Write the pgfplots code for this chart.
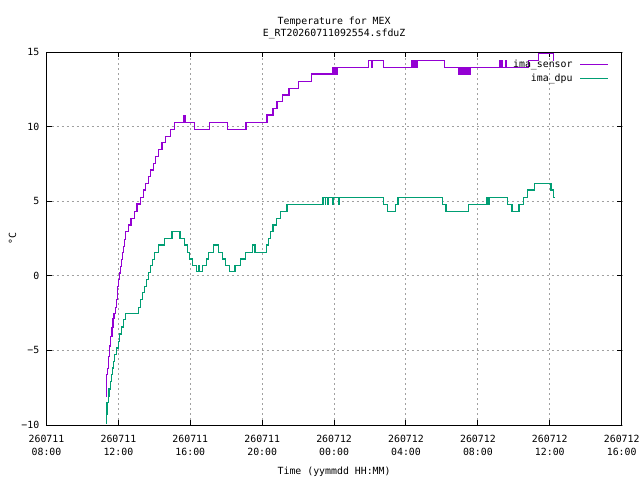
\documentclass[border=0pt]{standalone}
\usepackage{pgfplots}
\pgfplotsset{compat=1.18}
\usepackage{fontspec}
\setmainfont{DejaVu Sans Mono}
\definecolor{csensor}{HTML}{9400D3}
\definecolor{cdpu}{HTML}{009E73}
\definecolor{cgrid}{HTML}{A0A0A0}
\newcommand{\gfont}{\fontsize{7.4pt}{9.2pt}\selectfont}
\begin{document}
\begin{tikzpicture}
\path[use as bounding box] (0,0) rectangle (480pt,360pt);
\begin{axis}[
  at={(34.875pt,41.25pt)}, anchor=south west,
  width=431.4pt, height=279.5pt, scale only axis,
  xmin=8, xmax=40, ymin=-10, ymax=15,
  xtick={8,12,16,20,24,28,32,36,40},
  xticklabels={{260711\\08:00},{260711\\12:00},{260711\\16:00},{260711\\20:00},{260712\\00:00},{260712\\04:00},{260712\\08:00},{260712\\12:00},{260712\\16:00}},
  ytick={-10,-5,0,5,10,15},
  yticklabels={−10,−5,0,5,10,15},
  xticklabel style={font=\gfont, align=center, anchor=center, yshift=-15.4pt},
  yticklabel style={font=\gfont, anchor=east, inner sep=0pt, xshift=-5.2pt},
  axis line style={black, line width=0.75pt},
  major tick length=3.75pt,
  tick style={black, line width=0.75pt},
  grid=major,
  major grid style={cgrid, line width=0.75pt, dash pattern=on 1.5pt off 2.25pt},
  title={Temperature for MEX\\E\_RT20260711092554.sfduZ},
  title style={font=\gfont, align=center, at={(axis description cs:0.5,1)}, anchor=center, yshift=12.5pt},
  xlabel={Time (yymmdd HH:MM)},
  xlabel style={font=\gfont, at={(axis description cs:0.5,0)}, anchor=center, yshift=-35pt},
  ylabel={°C},
  every axis y label/.style={font=\gfont, at={(axis description cs:-0.0591,0.5)}, anchor=center, rotate=90},
  legend plot pos=right,
  legend cell align=right,
  legend image code/.code={\draw[#1] (0pt,0pt) -- (21pt,0pt);},
  legend style={draw=none, fill=none, font=\gfont, at={(axis description cs:1,1)}, anchor=north east,
    xshift=-9.5pt, yshift=-5.6pt, inner sep=0pt, row sep=3.5pt,
    nodes={inner sep=0pt, text height=5.5pt, text depth=1.5pt},
    /tikz/every odd column/.append style={column sep=5.25pt}},
]
\addplot[csensor, line width=0.9pt, const plot mark left] table {
11.32 -8.1
11.33 -6.6
11.40 -6.2
11.46 -5.4
11.52 -4.7
11.58 -4.05
11.64 -3.45
11.70 -2.85
11.76 -2.5
11.82 -2.1
11.88 -1.6
11.94 -0.7
12.00 -0.25
12.06 0.2
12.12 0.65
12.18 1.1
12.23 1.55
12.29 2.0
12.34 2.45
12.40 2.98
12.55 3.42
12.70 3.87
12.88 4.32
13.03 4.83
13.05 4.32
13.07 4.83
13.23 5.28
13.38 5.77
13.51 6.22
13.68 6.66
13.79 7.11
13.94 7.56
14.07 8.0
14.23 8.5
14.43 8.94
14.60 9.34
14.88 9.84
15.12 10.3
15.60 10.78
15.71 10.3
16.25 9.84
17.05 10.3
18.07 9.84
19.10 10.3
19.12 9.84
19.14 10.3
20.27 10.8
20.60 11.25
20.82 11.69
21.12 12.14
21.49 12.59
22.01 13.06
22.75 13.55
23.93 14.0
23.97 13.55
24.01 14.0
24.05 13.55
24.09 14.0
24.13 13.55
24.16 14.0
25.93 14.46
26.07 14.0
26.12 14.46
26.75 14.0
28.29 14.46
28.33 14.0
28.37 14.46
28.41 14.0
28.45 14.46
28.49 14.0
28.53 14.46
28.57 14.0
28.61 14.46
28.66 14.46
30.14 14.0
30.93 13.55
30.97 14.0
31.01 13.55
31.05 14.0
31.09 13.55
31.13 14.0
31.17 13.55
31.21 14.0
31.25 13.55
31.29 14.0
31.33 13.55
31.37 14.0
31.41 13.55
31.49 14.0
31.55 13.55
31.58 14.0
33.19 14.46
33.24 14.0
33.32 14.46
33.37 14.0
33.52 14.46
33.57 14.0
34.82 14.46
35.38 14.93
36.19 14.46
36.22 14.46
};
\addlegendentry{ima\_sensor}
\addplot[cdpu, line width=0.9pt, const plot mark left] table {
11.32 -9.87
11.33 -9.3
11.37 -8.48
11.43 -8.08
11.48 -7.59
11.54 -7.08
11.60 -6.63
11.65 -6.18
11.71 -5.74
11.78 -5.29
11.88 -4.84
11.99 -4.4
12.08 -3.9
12.19 -3.43
12.30 -2.94
12.41 -2.5
13.12 -2.1
13.23 -1.6
13.34 -1.11
13.45 -0.71
13.56 -0.26
13.68 0.23
13.79 0.68
13.90 1.08
14.01 1.57
14.21 2.08
14.55 2.53
14.95 2.98
14.97 2.53
15.00 2.98
15.42 2.53
15.44 2.98
15.46 2.53
15.69 2.08
15.84 1.57
15.97 1.13
16.12 0.68
16.34 0.28
16.45 0.68
16.48 0.28
16.67 0.68
16.90 1.13
17.03 1.57
17.27 2.08
17.58 1.57
17.79 1.13
17.95 0.68
18.16 0.28
18.48 0.68
18.50 0.28
18.53 0.68
18.81 1.13
19.08 1.57
19.45 2.08
19.60 1.57
20.23 2.08
20.34 2.53
20.45 2.98
20.60 3.42
20.79 3.87
21.01 4.32
21.38 4.81
23.34 5.28
23.36 4.81
23.39 5.28
23.52 4.81
23.54 5.28
23.65 4.81
23.67 5.28
23.92 4.81
23.94 5.28
24.26 4.81
24.28 5.28
26.77 4.81
26.95 4.32
27.40 4.81
27.52 5.28
27.55 4.81
27.58 5.28
30.04 4.81
30.23 4.32
31.49 4.81
32.49 5.28
32.53 4.81
32.57 5.28
32.61 4.81
32.65 5.28
32.68 5.28
33.66 4.81
33.90 4.32
34.28 4.81
34.30 4.32
34.33 4.81
34.53 5.28
34.77 5.77
35.14 6.22
36.07 5.77
36.21 5.28
36.22 5.28
};
\addlegendentry{ima\_dpu}
\end{axis}
\end{tikzpicture}
\end{document}
